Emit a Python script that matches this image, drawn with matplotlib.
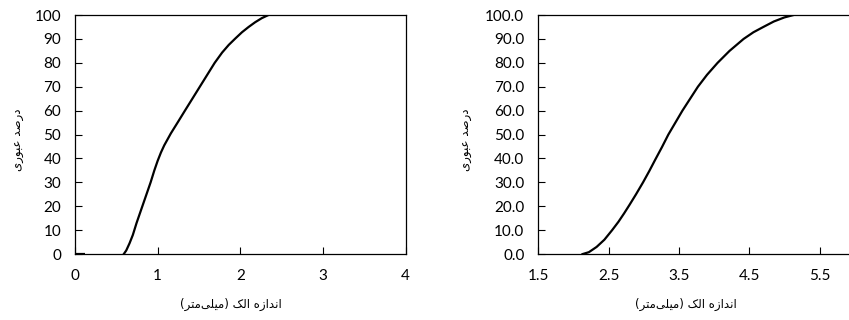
import matplotlib
matplotlib.use('Agg')
import matplotlib.pyplot as plt
from matplotlib.ticker import FormatStrFormatter

# sieve analysis, left gradation
left_x = [0.59, 0.62, 0.66, 0.70, 0.745, 0.79, 0.835, 0.875, 0.915, 0.96, 1.0, 1.04, 1.08, 1.12,
          1.16, 1.25, 1.33, 1.42, 1.51, 1.60, 1.69, 1.78, 1.86, 1.94, 2.02, 2.10, 2.18, 2.26, 2.34]
left_y = [0, 1.5, 4.5, 8, 13, 17.5, 22, 26, 30, 35, 39, 42.5, 45.5, 48,
          50.5, 55.5, 60, 65, 70, 75, 80, 84.3, 87.5, 90.2, 92.8, 95, 97, 98.7, 100]
left_base_x = [0, 0.12]
left_base_y = [0, 0]

# sieve analysis, right gradation
right_x = [2.13, 2.22, 2.33, 2.44, 2.55, 2.64, 2.72, 2.80, 2.89, 2.99, 3.08, 3.16, 3.26, 3.35,
           3.45, 3.55, 3.66, 3.77, 3.90, 4.05, 4.22, 4.42, 4.56, 4.70, 4.85, 5.0, 5.13]
right_y = [0, 0.8, 3, 6, 10, 13.5, 17, 20.7, 25, 30, 34.8, 39.3, 44.8, 50,
           55, 60, 65, 70, 75, 80, 85, 90, 92.8, 95, 97.3, 99, 100]

left_xticks = [0, 1, 2, 3, 4]
right_xticks = [1.5, 2.5, 3.5, 4.5, 5.5]
yticks = [0, 10, 20, 30, 40, 50, 60, 70, 80, 90, 100]

ylabel_text = 'درصد عبوری'
xlabel_text = 'اندازه الک (میلی\u200cمتر)'

# minimal persian shaping: matplotlib has no arabic text layout
DUAL = set('بتصعلمنهیک')
FORMS = {
    'ا': ('\uFE8D', '\uFE8E', None, None),
    'ب': ('\uFE8F', '\uFE90', '\uFE91', '\uFE92'),
    'ت': ('\uFE95', '\uFE96', '\uFE97', '\uFE98'),
    'د': ('\uFEA9', '\uFEAA', None, None),
    'ر': ('\uFEAD', '\uFEAE', None, None),
    'ز': ('\uFEAF', '\uFEB0', None, None),
    'ص': ('\uFEB9', '\uFEBA', '\uFEBB', '\uFEBC'),
    'ع': ('\uFEC9', '\uFECA', '\uFECB', '\uFECC'),
    'ل': ('\uFEDD', '\uFEDE', '\uFEDF', '\uFEE0'),
    'م': ('\uFEE1', '\uFEE2', '\uFEE3', '\uFEE4'),
    'ن': ('\uFEE5', '\uFEE6', '\uFEE7', '\uFEE8'),
    'ه': ('\uFEE9', '\uFEEA', '\uFEEB', '\uFEEC'),
    'و': ('\uFEED', '\uFEEE', None, None),
    'ی': ('\uFBFC', '\uFBFD', '\uFBFE', '\uFBFF'),
    'ک': ('\uFB8E', '\uFB8F', '\uFB90', '\uFB91'),
}


def shape_fa(text):
    """Turn logical persian text into joined glyphs in visual (LTR) order"""
    out = []
    n = len(text)
    for i, ch in enumerate(text):
        if ch == '\u200c':
            continue
        if ch not in FORMS:
            out.append(ch)
            continue
        prev = text[i - 1] if i > 0 else ''
        nxt = text[i + 1] if i < n - 1 else ''
        join_prev = prev in DUAL
        join_next = ch in DUAL and nxt in FORMS
        iso, fin, ini, med = FORMS[ch]
        if join_prev and join_next:
            out.append(med)
        elif join_prev:
            out.append(fin)
        elif join_next:
            out.append(ini)
        else:
            out.append(iso)
    mirror = {'(': ')', ')': '('}
    return ''.join(mirror.get(c, c) for c in reversed(out))


plt.rcParams['font.family'] = ['Lato', 'DejaVu Sans']

fig = plt.figure(figsize=(8.49, 3.2), dpi=100)
ax1 = fig.add_axes([0.0883, 0.206, 0.3895, 0.747])
ax2 = fig.add_axes([0.634, 0.206, 0.3727, 0.747])

ax1.plot(left_base_x, left_base_y, color='black', lw=1.6, solid_capstyle='butt')
ax1.plot(left_x, left_y, color='black', lw=1.6)
ax1.set_xlim(0, 4)
ax1.set_xticks(left_xticks)
ax1.yaxis.set_major_formatter(FormatStrFormatter('%d'))

ax2.plot(right_x, right_y, color='black', lw=1.6)
ax2.set_xlim(1.5, 6.0)
ax2.set_xticks(right_xticks)
ax2.yaxis.set_major_formatter(FormatStrFormatter('%.1f'))

for ax, ylx in [(ax1, -0.172), (ax2, -0.226)]:
    ax.set_ylim(0, 100)
    ax.set_yticks(yticks)
    ax.tick_params(direction='in', length=5, width=0.8, labelsize=11, colors='black')
    ax.tick_params(axis='y', pad=10)
    ax.tick_params(axis='x', pad=11)
    for sp in ax.spines.values():
        sp.set_linewidth(0.9)
        sp.set_color('black')
    ax.set_ylabel(shape_fa(ylabel_text), family='DejaVu Sans', fontsize=8.5, va='center')
    ax.yaxis.set_label_coords(ylx, 0.48)
    ax.set_xlabel(shape_fa(xlabel_text), family='DejaVu Sans', fontsize=8.5, va='top')

ax1.xaxis.set_label_coords(0.47, -0.185)
ax2.xaxis.set_label_coords(0.465, -0.185)

fig.savefig('out.png', dpi=100)
